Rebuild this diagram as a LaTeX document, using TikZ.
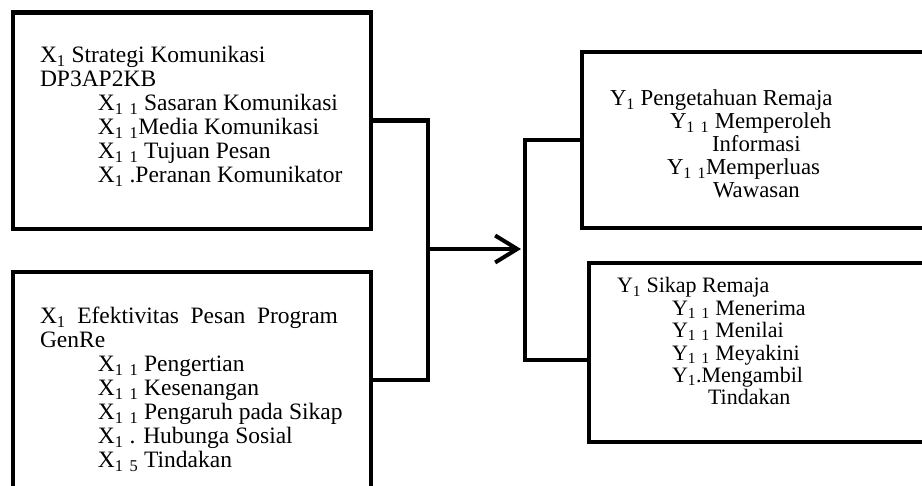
\documentclass[tikz,border=0pt]{standalone}
\usepackage{fontspec}
\setmainfont{Liberation Serif}
\usetikzlibrary{arrows.meta}
\newcommand{\sbs}[1]{\textsubscript{#1}}
\newcommand{\ind}[1]{\hspace*{#1}}
\begin{document}
\begin{tikzpicture}[x=1pt,y=-1pt,
  box/.style={draw=black, line width=4.8pt, inner sep=0pt, outer sep=0pt, fill=none},
  conn/.style={draw=black, line width=4.8pt, line join=miter},
  txt/.style={anchor=base west, inner sep=0pt, outer sep=0pt, font=\fontsize{23.5}{24}\selectfont},
  txtc/.style={anchor=base west, inner sep=0pt, outer sep=0pt, font=\fontsize{22.8}{23}\selectfont},
  txtd/.style={anchor=base west, inner sep=0pt, outer sep=0pt, font=\fontsize{22}{22.4}\selectfont}]
\useasboundingbox (0,0) rectangle (922,486);
% boxes
\node[box, minimum width=358pt, minimum height=216.5pt] (A) at (192,120.75) {};
\node[box, minimum width=358pt, minimum height=216pt] (B) at (192,380) {};
\node[box, minimum width=360pt, minimum height=176pt] (C) at (762,140) {};
\node[box, minimum width=360pt, minimum height=179pt] (D) at (769,352.5) {};
% texts
\node[txt] (tA) at (40,63) {\parbox[t]{330pt}{\raggedright
X\sbs{1} Strategi Komunikasi\\
DP3AP2KB\\
\ind{58pt}X\sbs{1} \sbs{1} Sasaran Komunikasi\\
\ind{58pt}X\sbs{1} \sbs{1}Media Komunikasi\\
\ind{58pt}X\sbs{1} \sbs{1} Tujuan Pesan\\
\ind{58pt}X\sbs{1} .Peranan Komunikator}};
\node[txt] (tB) at (40,324) {\parbox[t]{330pt}{\raggedright
\makebox[298pt][s]{X\sbs{1} Efektivitas Pesan Program}\\
GenRe\\
\ind{58pt}X\sbs{1} \sbs{1} Pengertian\\
\ind{58pt}X\sbs{1} \sbs{1} Kesenangan\\
\ind{58pt}X\sbs{1} \sbs{1} Pengaruh pada Sikap\\
\ind{58pt}X\sbs{1} . Hubunga Sosial\\
\ind{58pt}X\sbs{1} \sbs{5} Tindakan}};
\node[txtc] (tC) at (610,106) {\parbox[t]{300pt}{\raggedright
Y\sbs{1} Pengetahuan Remaja\\
\ind{60pt}Y\sbs{1} \sbs{1} Memperoleh\\
\ind{102pt}Informasi\\
\ind{57pt}Y\sbs{1} \sbs{1}Memperluas\\
\ind{103pt}Wawasan}};
\node[txtd] (tD) at (617,293) {\parbox[t]{300pt}{\raggedright
Y\sbs{1} Sikap Remaja\\
\ind{55pt}Y\sbs{1} \sbs{1} Menerima\\
\ind{55pt}Y\sbs{1} \sbs{1} Menilai\\
\ind{55pt}Y\sbs{1} \sbs{1} Meyakini\\
\ind{55pt}Y\sbs{1}.Mengambil\\
\ind{91pt}Tindakan}};
% connectors
\coordinate (jl) at (428,249);
\coordinate (jr) at (521,249);
\coordinate (rb) at (525,360);
\draw[conn] (A.east) -| (jl) |- (B.east);
\draw[conn] (C.west) -| (rb) -- (D.west |- rb);
\draw[conn, -{Straight Barb[length=22pt, width=27pt, line width=4pt]}] (jl) -- (jr);
\end{tikzpicture}
\end{document}
